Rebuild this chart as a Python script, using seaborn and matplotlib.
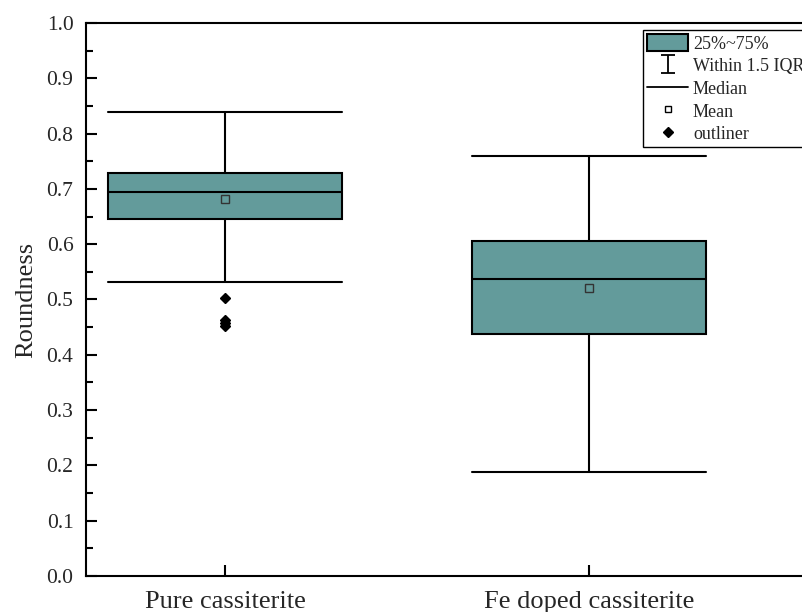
import numpy as np
import matplotlib
matplotlib.use("Agg")
import matplotlib.pyplot as plt
import seaborn as sns
from matplotlib.lines import Line2D
from matplotlib.patches import Patch
from matplotlib.ticker import MultipleLocator

categories = ["Pure cassiterite", "Fe doped cassiterite"]
q1 = [0.646, 0.438]
median = [0.694, 0.537]
q3 = [0.729, 0.606]
mean = [0.682, 0.521]
whislo = [0.532, 0.188]
whishi = [0.839, 0.759]
outliers = [[0.503, 0.463, 0.457, 0.452], []]

sns.set_theme(style="ticks")
plt.rcParams["font.family"] = ["Liberation Serif", "DejaVu Serif"]
plt.rcParams["mathtext.fontset"] = "stix"

fill = "#639b9b"

fig = plt.figure(figsize=(8.03, 6.12), dpi=100)
ax = fig.add_axes([86 / 803, 36 / 612, 0.95, 553 / 612])

stats = []
for i, c in enumerate(categories):
    stats.append(dict(label=c, q1=q1[i], med=median[i], q3=q3[i], mean=mean[i],
                      whislo=whislo[i], whishi=whishi[i], fliers=outliers[i]))

ax.bxp(stats, positions=[0, 1], widths=0.643, showmeans=True, patch_artist=True,
       boxprops=dict(facecolor=fill, edgecolor="black", linewidth=1.5),
       medianprops=dict(color="black", linewidth=1.5),
       whiskerprops=dict(color="black", linewidth=1.5),
       capprops=dict(color="black", linewidth=1.5),
       capwidths=0.643,
       meanprops=dict(marker="s", markerfacecolor="none", markeredgecolor="#333333",
                      markersize=6, markeredgewidth=1.0),
       flierprops=dict(marker="D", markerfacecolor="black", markeredgecolor="black",
                       markersize=5))

ax.set_xlim(-0.382, 1.715)
ax.set_ylim(0, 1.0)
ax.yaxis.set_major_locator(MultipleLocator(0.1))
ax.yaxis.set_minor_locator(MultipleLocator(0.05))
ax.set_yticklabels([f"{v:.1f}" for v in ax.get_yticks()])
ax.set_xticks([0, 1])
ax.set_xticklabels(categories, fontsize=19)
ax.tick_params(axis="y", labelsize=15.5, pad=9)
ax.tick_params(axis="x", pad=10.5)
ax.tick_params(axis="both", which="major", direction="in", length=8, width=1.5, color="black")
ax.tick_params(axis="y", which="minor", direction="in", length=5, width=1.5, color="black")
ax.set_ylabel("Roundness", fontsize=19, labelpad=7)
for s in ax.spines.values():
    s.set_linewidth(1.5)
    s.set_color("black")

eb = ax.errorbar([np.nan], [np.nan], yerr=[[1]], fmt="none", ecolor="black",
                 capsize=5, elinewidth=1.3, capthick=1.3)
handles = [
    Patch(facecolor=fill, edgecolor="black", linewidth=1.5),
    eb,
    Line2D([], [], color="black", linewidth=1.3),
    Line2D([], [], linestyle="none", marker="s", markerfacecolor="none",
           markeredgecolor="black", markersize=5),
    Line2D([], [], linestyle="none", marker="D", color="black", markersize=5),
]
labels = ["25%~75%", "Within 1.5 IQR", "Median", "Mean", "outliner"]
leg = ax.legend(handles, labels, loc="upper left", bbox_to_anchor=(643 / 803, 1 - 30 / 612),
                bbox_transform=fig.transFigure, fontsize=13, frameon=True, fancybox=False,
                edgecolor="black", framealpha=1, borderpad=0.22, labelspacing=0.23,
                handlelength=2.3, handleheight=1.05, handletextpad=0.25, borderaxespad=0)
leg.get_frame().set_linewidth(1.0)

fig.savefig("out.png", dpi=100)
